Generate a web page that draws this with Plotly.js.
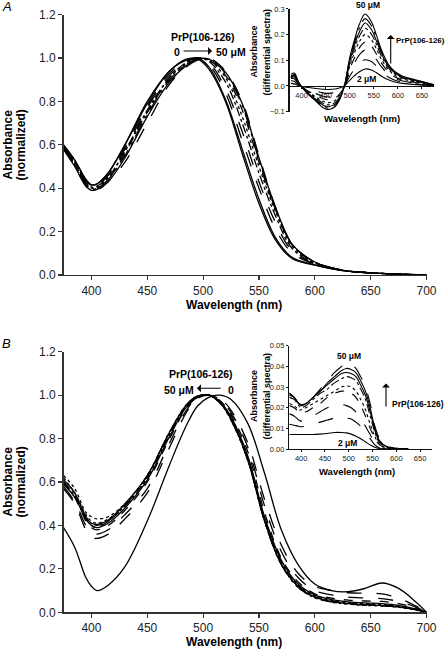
<!DOCTYPE html>
<html><head><meta charset="utf-8">
<script src="https://cdn.plot.ly/plotly-3.0.1.min.js"></script>
<style>html,body{margin:0;padding:0;background:#fff;}#chart{width:446px;height:650px;}</style>
</head><body><div id="chart"></div>
<script>
// ---------- DATA ----------
// Panel A main: normalized absorbance, PrP(106-126) 0..50 uM
const concA = ["0", "2", "5", "10", "15", "20", "25", "30", "40", "50"];
const wlA = [375, 385, 395, 400, 405, 415, 430, 450, 470, 485, 495, 505, 520, 535, 550, 565, 580, 600, 625, 650, 700];
const A0  = [0.60,0.53,0.44,0.415,0.42,0.47,0.60,0.80,0.94,0.995,0.995,0.95,0.80,0.56,0.33,0.16,0.075,0.045,0.020,0.010,0.0];
const A2  = [0.60,0.53,0.44,0.415,0.42,0.47,0.60,0.79,0.94,0.990,1.0,0.96,0.81,0.58,0.35,0.17,0.080,0.047,0.020,0.010,0.0];
const A5  = [0.59,0.52,0.43,0.41,0.415,0.46,0.59,0.78,0.93,0.985,1.0,0.97,0.84,0.62,0.40,0.21,0.10,0.050,0.021,0.010,0.0];
const A10 = [0.59,0.52,0.43,0.41,0.41,0.46,0.58,0.77,0.92,0.98,1.0,0.98,0.86,0.66,0.43,0.24,0.11,0.052,0.021,0.010,0.0];
const A15 = [0.59,0.52,0.43,0.405,0.41,0.45,0.57,0.76,0.91,0.98,1.0,0.985,0.89,0.70,0.47,0.27,0.12,0.055,0.022,0.010,0.0];
const A20 = [0.58,0.51,0.42,0.40,0.405,0.45,0.57,0.75,0.91,0.975,0.998,0.99,0.91,0.73,0.50,0.29,0.13,0.057,0.022,0.010,0.0];
const A25 = [0.58,0.51,0.42,0.40,0.40,0.44,0.56,0.75,0.90,0.97,0.997,0.99,0.92,0.76,0.52,0.30,0.135,0.058,0.022,0.010,0.0];
const A30 = [0.58,0.51,0.42,0.395,0.40,0.44,0.55,0.74,0.90,0.97,0.995,0.995,0.93,0.78,0.53,0.30,0.14,0.060,0.022,0.010,0.0];
const A40 = [0.58,0.50,0.41,0.39,0.395,0.43,0.54,0.73,0.89,0.965,0.995,0.995,0.935,0.79,0.54,0.31,0.14,0.060,0.022,0.010,0.0];
const A50 = [0.58,0.50,0.41,0.385,0.39,0.43,0.52,0.70,0.88,0.96,0.99,1.0,0.94,0.80,0.55,0.31,0.14,0.060,0.022,0.010,0.0];

// Panel A inset: differential spectra, 2..50 uM
const concDA = ["2", "5", "10", "15", "20", "25", "30", "40", "50"];
const wlDA = [378, 385, 395, 410, 430, 445, 456, 470, 480, 489, 500, 510, 520, 532, 545, 555, 566, 580, 594, 610, 640, 675];
const D2  = [0.010,0.008,0.000,-0.005,-0.010,-0.013,-0.014,-0.012,-0.007,0.0,0.022,0.040,0.055,0.066,0.062,0.052,0.038,0.024,0.015,0.010,0.005,0.001];
const D5  = [0.020,0.018,0.002,-0.010,-0.020,-0.027,-0.029,-0.025,-0.015,0.0,0.038,0.066,0.088,0.102,0.095,0.078,0.056,0.035,0.022,0.014,0.007,0.001];
const D10 = [0.030,0.028,0.005,-0.013,-0.030,-0.040,-0.043,-0.037,-0.023,0.0,0.053,0.090,0.121,0.140,0.128,0.104,0.074,0.046,0.029,0.019,0.010,0.002];
const D15 = [0.035,0.035,0.006,-0.016,-0.036,-0.050,-0.054,-0.047,-0.029,0.0,0.065,0.110,0.148,0.170,0.155,0.125,0.089,0.055,0.035,0.023,0.012,0.002];
const D20 = [0.030,0.038,0.007,-0.018,-0.043,-0.060,-0.065,-0.056,-0.035,0.0,0.077,0.130,0.172,0.200,0.180,0.146,0.103,0.064,0.041,0.027,0.015,0.003];
const D25 = [0.040,0.040,0.008,-0.020,-0.048,-0.068,-0.074,-0.064,-0.040,0.0,0.087,0.146,0.193,0.224,0.202,0.163,0.116,0.071,0.046,0.031,0.017,0.003];
const D30 = [0.035,0.043,0.009,-0.022,-0.053,-0.075,-0.081,-0.070,-0.044,0.0,0.096,0.159,0.210,0.245,0.220,0.178,0.126,0.077,0.050,0.034,0.019,0.004];
const D40 = [0.045,0.050,0.010,-0.024,-0.057,-0.080,-0.087,-0.075,-0.047,0.0,0.103,0.170,0.225,0.262,0.235,0.190,0.134,0.082,0.053,0.036,0.021,0.004];
const D50 = [0.030,0.045,0.010,-0.025,-0.060,-0.085,-0.092,-0.080,-0.050,0.0,0.110,0.180,0.240,0.280,0.250,0.200,0.140,0.085,0.055,0.038,0.022,0.005];

// Panel B main
const concB = ["0", "2", "5", "10", "15", "20", "25", "30", "40", "50"];
const wlB = [375, 385, 395, 400, 405, 415, 430, 450, 470, 485, 495, 505, 515, 525, 540, 555, 570, 585, 600, 615, 630, 645, 660, 675, 690, 700];
const B0  = [0.39,0.30,0.16,0.12,0.10,0.125,0.21,0.42,0.68,0.86,0.95,0.99,1.0,0.98,0.87,0.64,0.38,0.22,0.13,0.10,0.095,0.11,0.135,0.11,0.05,0.0];
const B2  = [0.57,0.50,0.38,0.345,0.34,0.36,0.43,0.55,0.76,0.92,0.985,1.0,0.985,0.93,0.78,0.52,0.31,0.18,0.12,0.10,0.09,0.088,0.085,0.065,0.03,0.0];
const B5  = [0.58,0.51,0.40,0.365,0.36,0.38,0.45,0.57,0.78,0.93,0.99,1.0,0.98,0.92,0.76,0.49,0.28,0.16,0.10,0.08,0.07,0.066,0.063,0.05,0.025,0.0];
const B10 = [0.60,0.53,0.42,0.39,0.38,0.40,0.47,0.60,0.80,0.94,0.99,1.0,0.975,0.91,0.74,0.46,0.25,0.14,0.085,0.065,0.056,0.052,0.05,0.04,0.02,0.0];
const B15 = [0.59,0.53,0.43,0.40,0.39,0.41,0.48,0.61,0.81,0.945,0.99,1.0,0.97,0.90,0.72,0.44,0.24,0.13,0.08,0.058,0.048,0.043,0.04,0.032,0.016,0.0];
const B20 = [0.62,0.55,0.45,0.42,0.41,0.43,0.49,0.62,0.82,0.95,0.995,1.0,0.97,0.90,0.71,0.43,0.23,0.125,0.075,0.055,0.045,0.04,0.036,0.028,0.014,0.0];
const B25 = [0.60,0.54,0.44,0.41,0.40,0.42,0.49,0.62,0.82,0.95,0.99,1.0,0.97,0.89,0.71,0.43,0.23,0.12,0.072,0.052,0.042,0.037,0.033,0.026,0.013,0.0];
const B30 = [0.61,0.55,0.44,0.41,0.405,0.425,0.50,0.63,0.83,0.955,0.995,1.0,0.965,0.89,0.70,0.42,0.22,0.12,0.07,0.05,0.04,0.035,0.031,0.025,0.012,0.0];
const B40 = [0.59,0.53,0.43,0.40,0.39,0.42,0.49,0.63,0.83,0.955,0.995,1.0,0.965,0.885,0.70,0.42,0.22,0.115,0.068,0.048,0.038,0.033,0.03,0.024,0.012,0.0];
const B50 = [0.63,0.57,0.46,0.44,0.43,0.44,0.50,0.63,0.83,0.955,0.995,1.0,0.965,0.885,0.70,0.42,0.22,0.115,0.067,0.047,0.037,0.032,0.029,0.023,0.011,0.0];

// Panel B inset: differential spectra
const concDB = ["2", "5", "10", "15", "20", "25", "30", "40", "50"];
const wlDB = [375, 385, 395, 400, 410, 425, 440, 455, 470, 485, 495, 505, 515, 525, 535, 545, 555, 565, 580, 600, 625];
const E2  = [0.007,0.007,0.007,0.007,0.007,0.007,0.0072,0.0075,0.008,0.008,0.0078,0.0072,0.0062,0.005,0.0035,0.002,0.0008,0.0002,0.0,0.0,0.0];
const E5  = [0.012,0.0115,0.011,0.0108,0.011,0.012,0.013,0.014,0.015,0.0155,0.015,0.0145,0.013,0.011,0.008,0.005,0.002,0.0005,0.0,0.0,0.0];
const E10 = [0.017,0.016,0.014,0.0135,0.014,0.016,0.018,0.020,0.021,0.0215,0.021,0.020,0.018,0.015,0.011,0.007,0.003,0.001,0.0,0.0,0.0];
const E15 = [0.021,0.020,0.018,0.0175,0.018,0.020,0.022,0.025,0.027,0.028,0.028,0.027,0.025,0.021,0.016,0.010,0.005,0.002,0.0005,0.0,0.0];
const E20 = [0.022,0.021,0.019,0.019,0.020,0.022,0.024,0.026,0.028,0.030,0.0305,0.030,0.028,0.024,0.019,0.012,0.006,0.002,0.0005,0.0,0.0];
const E25 = [0.025,0.024,0.021,0.020,0.021,0.024,0.027,0.029,0.032,0.034,0.035,0.0345,0.033,0.029,0.024,0.016,0.008,0.003,0.001,0.0,0.0];
const E30 = [0.026,0.025,0.022,0.0215,0.022,0.025,0.028,0.031,0.034,0.0365,0.037,0.0365,0.035,0.031,0.026,0.018,0.009,0.0035,0.001,0.0002,0.0];
const E40 = [0.027,0.025,0.022,0.021,0.022,0.025,0.028,0.032,0.035,0.038,0.039,0.0385,0.037,0.033,0.028,0.020,0.010,0.004,0.0012,0.0003,0.0];
const E50 = [0.027,0.025,0.022,0.021,0.022,0.025,0.029,0.033,0.037,0.040,0.042,0.041,0.039,0.035,0.030,0.022,0.011,0.005,0.0015,0.0003,0.0];

const mainTicksX = [400, 450, 500, 550, 600, 650, 700];
const mainTicksY = [0, 0.2, 0.4, 0.6, 0.8, 1.0, 1.2];
const insetTicksX = [400, 450, 500, 550, 600, 650];
const insetTicksYA = [-0.1, 0, 0.1, 0.2, 0.3];
const insetTicksYB = [0, 0.01, 0.02, 0.03, 0.04, 0.05];

// ---------- STYLE ----------
const FONT = 'Liberation Sans, Arial, Helvetica, sans-serif';
const W = 446, H = 650;
const px = (x) => x / W;
const py = (y) => 1 - y / H;

const dashA = ['solid','solid','longdash','longdash','dashdot','dot','dash','longdashdot','solid','longdash'];
const dashDA = ['solid','longdash','longdash','dash','dot','dashdot','solid','longdashdot','solid'];
const dashB = ['solid','longdash','longdash','dash','solid','dot','dashdot','solid','longdashdot','dot'];
const dashDB = ['solid','longdash','longdash','dash','dot','dashdot','solid','solid','longdash'];

const traces = [];
function add(xs, ys, name, dash, xa, ya, w) {
  traces.push({
    type: 'scatter', mode: 'lines', x: xs, y: ys, name: name,
    xaxis: xa, yaxis: ya, hoverinfo: 'skip',
    line: {color: '#000', width: w, dash: dash, shape: 'spline', smoothing: 1}
  });
}
[A0,A2,A5,A10,A15,A20,A25,A30,A40,A50].forEach((s,i) => add(wlA, s, concA[i] + ' µM', dashA[i], 'x', 'y', 1.3));
[D2,D5,D10,D15,D20,D25,D30,D40,D50].forEach((s,i) => add(wlDA, s, concDA[i] + ' µM', dashDA[i], 'x3', 'y3', 1.1));
[B0,B2,B5,B10,B15,B20,B25,B30,B40,B50].forEach((s,i) => add(wlB, s, concB[i] + ' µM', dashB[i], 'x2', 'y2', 1.3));
[E2,E5,E10,E15,E20,E25,E30,E40,E50].forEach((s,i) => add(wlDB, s, concDB[i] + ' µM', dashDB[i], 'x4', 'y4', 1.1));

const axLine = '#333';
function mainX(domain, anchor) {
  return {domain: domain, anchor: anchor, range: [375, 700], tickvals: mainTicksX,
    showline: true, linecolor: axLine, linewidth: 1.4, ticks: 'outside', ticklen: 4, tickwidth: 1.2, tickcolor: axLine,
    showgrid: false, zeroline: false, tickfont: {family: FONT, size: 12, color: '#222'}, fixedrange: true};
}
function mainY(domain, anchor) {
  return {domain: domain, anchor: anchor, range: [0, 1.2], tickvals: mainTicksY, tickformat: '.1f',
    showline: true, linecolor: axLine, linewidth: 1.4, ticks: 'outside', ticklen: 4, tickwidth: 1.2, tickcolor: axLine,
    showgrid: false, zeroline: false, tickfont: {family: FONT, size: 12, color: '#222'}, fixedrange: true};
}
const insetTickFont = {family: FONT, size: 7.5, color: '#222'};

const layout = {
  width: W, height: H, margin: {l: 0, r: 0, t: 0, b: 0},
  paper_bgcolor: '#fff', plot_bgcolor: 'rgba(0,0,0,0)', showlegend: false,
  font: {family: FONT, color: '#000'},
  xaxis: mainX([px(63.5), px(426.5)], 'y'),
  yaxis: mainY([py(275), py(14.6)], 'x'),
  xaxis2: mainX([px(63.5), px(426.5)], 'y2'),
  yaxis2: mainY([py(612.3), py(351.7)], 'x2'),
  xaxis3: {domain: [px(289.5), px(434)], anchor: 'free', position: py(85.7), range: [375, 675], tickvals: insetTicksX,
    showline: true, linecolor: '#111', linewidth: 1.4, ticks: 'outside', ticklen: 2, tickcolor: '#111',
    showgrid: false, zeroline: false, tickfont: insetTickFont, fixedrange: true},
  yaxis3: {domain: [py(111.6), py(8.9)], anchor: 'x3', range: [-0.1, 0.3], tickvals: insetTicksYA, tickformat: '.1f',
    showline: true, linecolor: '#111', linewidth: 1.4, ticks: 'outside', ticklen: 2, tickcolor: '#111',
    showgrid: false, zeroline: false, tickfont: insetTickFont, fixedrange: true},
  xaxis4: {domain: [px(289.3), px(432)], anchor: 'y4', range: [375, 675], tickvals: insetTicksX,
    showline: true, linecolor: '#111', linewidth: 1.4, ticks: 'outside', ticklen: 2, tickcolor: '#111',
    showgrid: false, zeroline: false, tickfont: insetTickFont, fixedrange: true},
  yaxis4: {domain: [py(449), py(345.7)], anchor: 'x4', range: [0, 0.05], tickvals: insetTicksYB, tickformat: '.2f',
    showline: true, linecolor: '#111', linewidth: 1.4, ticks: 'outside', ticklen: 2, tickcolor: '#111',
    showgrid: false, zeroline: false, tickfont: insetTickFont, fixedrange: true},
  annotations: []
};

function txt(t, x, y, size, opts) {
  const o = Object.assign({bold: true, angle: 0, xanchor: 'center', italic: false}, opts || {});
  let s = t;
  if (o.bold) s = '<b>' + s + '</b>';
  if (o.italic) s = '<i>' + s + '</i>';
  layout.annotations.push({text: s, x: px(x), y: py(y), xref: 'paper', yref: 'paper', showarrow: false,
    xanchor: o.xanchor, yanchor: 'middle', textangle: o.angle, font: {family: FONT, size: size, color: '#000'}});
}
function arrow(hx, hy, tx, ty) {
  layout.annotations.push({text: '', x: px(hx), y: py(hy), xref: 'paper', yref: 'paper', showarrow: true,
    ax: tx - hx, ay: ty - hy, arrowhead: 1, arrowsize: 1.2, arrowwidth: 1.1, arrowcolor: '#000'});
}

// panel letters
txt('A', 6.5, 7, 13, {bold: false, italic: true});
txt('B', 6.5, 343, 13, {bold: false, italic: true});
// main axis titles
txt('Absorbance', 7.5, 145, 12, {angle: -90});
txt('(normalized)', 20.5, 145, 12, {angle: -90});
txt('Wavelength (nm)', 233.5, 305, 12);
txt('Absorbance', 7.5, 482, 12, {angle: -90});
txt('(normalized)', 20.5, 482, 12, {angle: -90});
txt('Wavelength (nm)', 233.5, 641.5, 12);
// main A labels
txt('PrP(106-126)', 203, 37, 10.5);
txt('0', 177, 52, 10.5);
txt('50 μM', 230.5, 52, 10.5);
arrow(212, 51, 182, 51);
// main B labels
txt('PrP(106-126)', 200.5, 374, 10.5);
txt('50 μM', 179, 390, 10.5);
txt('0', 231, 390, 10.5);
arrow(197, 388.3, 222, 388.3);
// inset A labels
txt('Absorbance', 253.5, 52, 9, {angle: -90});
txt('(differential spectra)', 266.5, 52, 9, {angle: -90});
txt('Wavelength (nm)', 362, 118.5, 9.5);
txt('50 μM', 368, 5, 8.5);
txt('2 μM', 366, 79, 8.5);
txt('PrP(106-126)', 394, 40.5, 8, {xanchor: 'left'});
arrow(390.7, 35, 390.7, 65);
// inset B labels
txt('Absorbance', 254, 396, 9, {angle: -90});
txt('(differential spectra)', 266.5, 396, 9, {angle: -90});
txt('Wavelength (nm)', 357, 471, 9.5);
txt('50 μM', 348.5, 356, 8.5);
txt('2 μM', 347, 442.5, 8.5);
txt('PrP(106-126)', 390, 403.5, 8.5, {xanchor: 'left'});
arrow(386, 383.5, 386, 408);

Plotly.newPlot('chart', traces, layout, {staticPlot: true, displayModeBar: false});
</script>
</body></html>
